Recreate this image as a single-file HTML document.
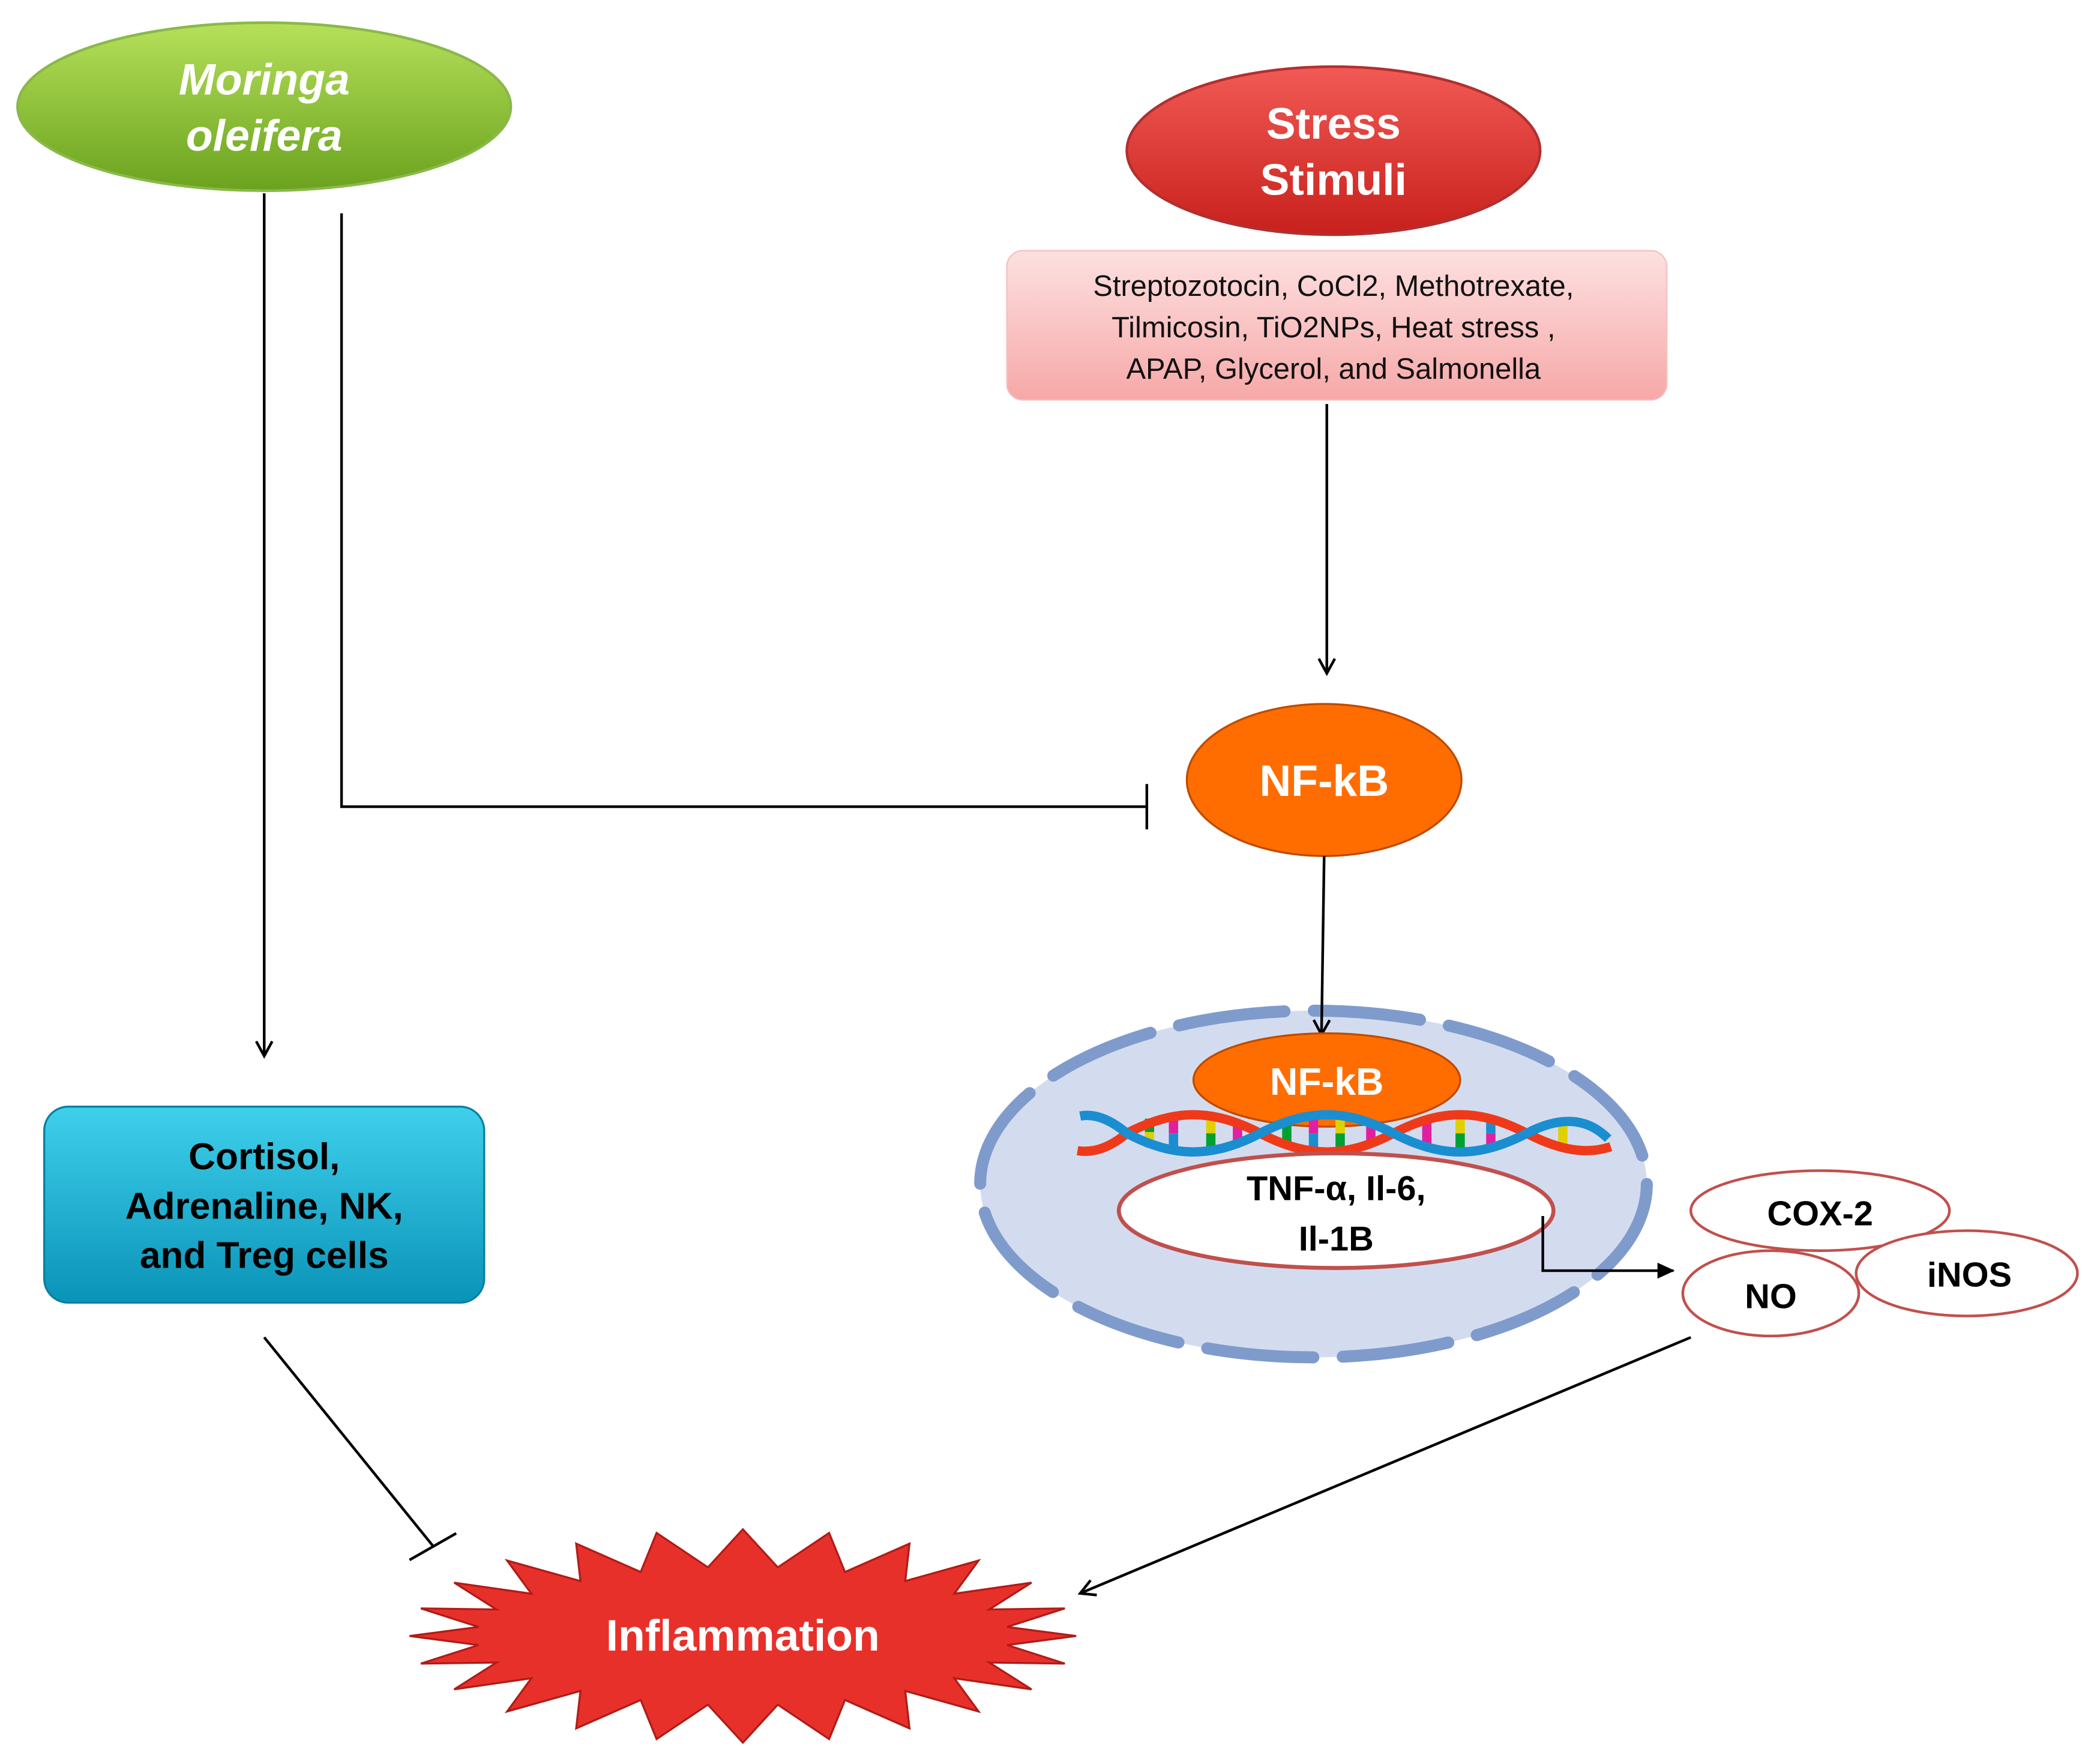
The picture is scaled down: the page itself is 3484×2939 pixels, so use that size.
<!DOCTYPE html>
<html><head><meta charset="utf-8"><style>
html,body{margin:0;padding:0;background:#fff;}
svg{display:block;}
text{font-family:"Liberation Sans",Arial,sans-serif;font-weight:bold;}
</style></head><body>
<svg width="3484" height="2939" viewBox="0 0 1568 1323" xmlns="http://www.w3.org/2000/svg">
<defs>
<linearGradient id="g1" x1="0" y1="0" x2="0" y2="1"><stop offset="0" stop-color="#b6e05a"/><stop offset="1" stop-color="#6aa21e"/></linearGradient>
<linearGradient id="r1" x1="0" y1="0" x2="0" y2="1"><stop offset="0" stop-color="#f25a55"/><stop offset="1" stop-color="#c8201c"/></linearGradient>
<linearGradient id="p1" x1="0" y1="0" x2="0" y2="1"><stop offset="0" stop-color="#fde0e0"/><stop offset="1" stop-color="#f7a8a8"/></linearGradient>
<linearGradient id="c1" x1="0" y1="0" x2="0" y2="1"><stop offset="0" stop-color="#3fd0ec"/><stop offset="1" stop-color="#0a93b8"/></linearGradient>
<marker id="oa" markerWidth="14" markerHeight="14" refX="12" refY="7" orient="auto" markerUnits="userSpaceOnUse"><path d="M1,1 L12,7 L1,13" fill="none" stroke="#000" stroke-width="2"/></marker>
<marker id="fa" markerWidth="14" markerHeight="14" refX="12" refY="7" orient="auto" markerUnits="userSpaceOnUse"><path d="M0,1 L13,7 L0,13 Z" fill="#000"/></marker>
</defs>
<g stroke="#000" stroke-width="2" fill="none">
<line x1="198" y1="145" x2="198" y2="792" marker-end="url(#oa)"/>
<polyline points="256,160 256,605 860,605"/>
<line x1="860" y1="588" x2="860" y2="622"/>
<line x1="995" y1="303" x2="995" y2="505" marker-end="url(#oa)"/>
<line x1="198" y1="1003" x2="325" y2="1160"/>
<line x1="307" y1="1170" x2="342" y2="1150"/>
<line x1="1268" y1="1003" x2="810" y2="1195" marker-end="url(#oa)"/>
</g>
<ellipse cx="198" cy="80" rx="185" ry="63" fill="url(#g1)" stroke="#8ab84a" stroke-width="2"/>
<text x="198" y="71" font-size="33" font-style="italic" fill="#fff" text-anchor="middle">Moringa</text>
<text x="198" y="113" font-size="33" font-style="italic" fill="#fff" text-anchor="middle">oleifera</text>
<ellipse cx="1000" cy="113" rx="155" ry="63" fill="url(#r1)" stroke="#b03030" stroke-width="2"/>
<text x="1000" y="104" font-size="33" fill="#fff" text-anchor="middle">Stress</text>
<text x="1000" y="146" font-size="33" fill="#fff" text-anchor="middle">Stimuli</text>
<rect x="755" y="188" width="495" height="112" rx="12" fill="url(#p1)" stroke="#f4c0c0"/>
<g font-size="22" text-anchor="middle" fill="#111">
<text x="1000" y="222" style="font-weight:normal">Streptozotocin, CoCl2, Methotrexate,</text>
<text x="1000" y="253" style="font-weight:normal">Tilmicosin, TiO2NPs, Heat stress ,</text>
<text x="1000" y="284" style="font-weight:normal">APAP, Glycerol, and Salmonella</text>
</g>
<ellipse cx="993" cy="585" rx="103" ry="57" fill="#ff6d00" stroke="#c04a00" stroke-width="1.5"/>
<text x="993" y="597" font-size="33" fill="#fff" text-anchor="middle">NF-kB</text>
<ellipse cx="985" cy="888" rx="250" ry="130" fill="#d3dcef" stroke="#7f9bcc" stroke-width="9" stroke-dasharray="80 22" stroke-linecap="round"/>
<line x1="993" y1="642" x2="991" y2="776" stroke="#000" stroke-width="2" marker-end="url(#oa)"/>
<ellipse cx="995" cy="810" rx="100" ry="35" fill="#ff6d00" stroke="#c04a00" stroke-width="1.5"/>
<text x="995" y="821" font-size="29" fill="#fff" text-anchor="middle">NF-kB</text>
<!-- DNA -->
<g stroke-width="7">
<line x1="862" y1="839" x2="862" y2="849" stroke="#00a030"/><line x1="862" y1="849" x2="862" y2="861" stroke="#e0d000"/>
<line x1="880" y1="837" x2="880" y2="850" stroke="#e020a0"/><line x1="880" y1="850" x2="880" y2="863" stroke="#1a8ed0"/>
<line x1="908" y1="837" x2="908" y2="850" stroke="#e0d000"/><line x1="908" y1="850" x2="908" y2="863" stroke="#00a030"/>
<line x1="928" y1="841" x2="928" y2="859" stroke="#e020a0"/>
<line x1="965" y1="841" x2="965" y2="859" stroke="#00a030"/>
<line x1="985" y1="837" x2="985" y2="850" stroke="#e020a0"/><line x1="985" y1="850" x2="985" y2="863" stroke="#1a8ed0"/>
<line x1="1005" y1="837" x2="1005" y2="850" stroke="#e0d000"/><line x1="1005" y1="850" x2="1005" y2="863" stroke="#00a030"/>
<line x1="1028" y1="841" x2="1028" y2="859" stroke="#e020a0"/>
<line x1="1070" y1="840" x2="1070" y2="860" stroke="#e020a0"/>
<line x1="1095" y1="837" x2="1095" y2="850" stroke="#e0d000"/><line x1="1095" y1="850" x2="1095" y2="863" stroke="#00a030"/>
<line x1="1118" y1="838" x2="1118" y2="850" stroke="#1a8ed0"/><line x1="1118" y1="850" x2="1118" y2="862" stroke="#e020a0"/>
<line x1="1172" y1="842" x2="1172" y2="858" stroke="#e0d000"/>
</g>
<path d="M808,863 Q826,866 845,850 C881,831.4 909,831.4 945,850 C981,868.6 1009,868.6 1045,850 C1081,831.4 1109,831.4 1145,850 C1170,863 1190,866 1208,860" fill="none" stroke="#ee3a1a" stroke-width="7"/>
<path d="M810,837 Q826,834 845,850 C881,868.6 909,868.6 945,850 C981,831.4 1009,831.4 1045,850 C1081,868.6 1109,868.6 1145,850 C1170,837 1190,838 1206,854" fill="none" stroke="#1a8ed0" stroke-width="7"/>
<ellipse cx="1002" cy="908" rx="163" ry="43" fill="#fff" stroke="#c0504d" stroke-width="3"/>
<text x="1002" y="900" font-size="26" fill="#000" text-anchor="middle">TNF-α, Il-6,</text>
<text x="1002" y="938" font-size="26" fill="#000" text-anchor="middle">Il-1B</text>
<polyline points="1157,912 1157,953 1255,953" fill="none" stroke="#000" stroke-width="2" marker-end="url(#fa)"/>
<ellipse cx="1365" cy="908" rx="97" ry="30" fill="#fff" stroke="#c0504d" stroke-width="2"/>
<ellipse cx="1475" cy="955" rx="83" ry="32" fill="#fff" stroke="#c0504d" stroke-width="2"/>
<ellipse cx="1328" cy="970" rx="66" ry="32" fill="#fff" stroke="#c0504d" stroke-width="2"/>
<text x="1365" y="919" font-size="26" text-anchor="middle">COX-2</text>
<text x="1477" y="965" font-size="26" text-anchor="middle">iNOS</text>
<text x="1328" y="981" font-size="26" text-anchor="middle">NO</text>
<rect x="33" y="830" width="330" height="147" rx="18" fill="url(#c1)" stroke="#0a7fa0" stroke-width="1.5"/>
<text x="198" y="877" font-size="28" text-anchor="middle">Cortisol,</text>
<text x="198" y="914" font-size="28" text-anchor="middle">Adrenaline, NK,</text>
<text x="198" y="951" font-size="28" text-anchor="middle">and Treg cells</text>
<polygon fill="#e8302a" stroke="#b01c18" stroke-width="1.5" points="807,1227 755.2,1220.2 798.5,1206.3 741.8,1207.1 773.5,1187 715.6,1195.3 733.8,1170.4 678.8,1185.8 682,1157.7 633.6,1179 621.7,1149.7 583.2,1175.5 557,1147 530.8,1175.5 492.3,1149.7 480.4,1179 432,1157.7 435.2,1185.8 380.2,1170.4 398.4,1195.3 340.5,1187 372.2,1207.1 315.5,1206.3 358.8,1220.2 307,1227 358.8,1233.8 315.5,1247.7 372.2,1246.9 340.5,1267 398.4,1258.7 380.2,1283.6 435.2,1268.2 432,1296.3 480.4,1275 492.3,1304.3 530.8,1278.5 557,1307 583.2,1278.5 621.7,1304.3 633.6,1275 682,1296.3 678.8,1268.2 733.8,1283.6 715.6,1258.7 773.5,1267 741.8,1246.9 798.5,1247.7 755.2,1233.8"/>
<text x="557" y="1238" font-size="33" fill="#fff" text-anchor="middle">Inflammation</text>
</svg>
</body></html>
